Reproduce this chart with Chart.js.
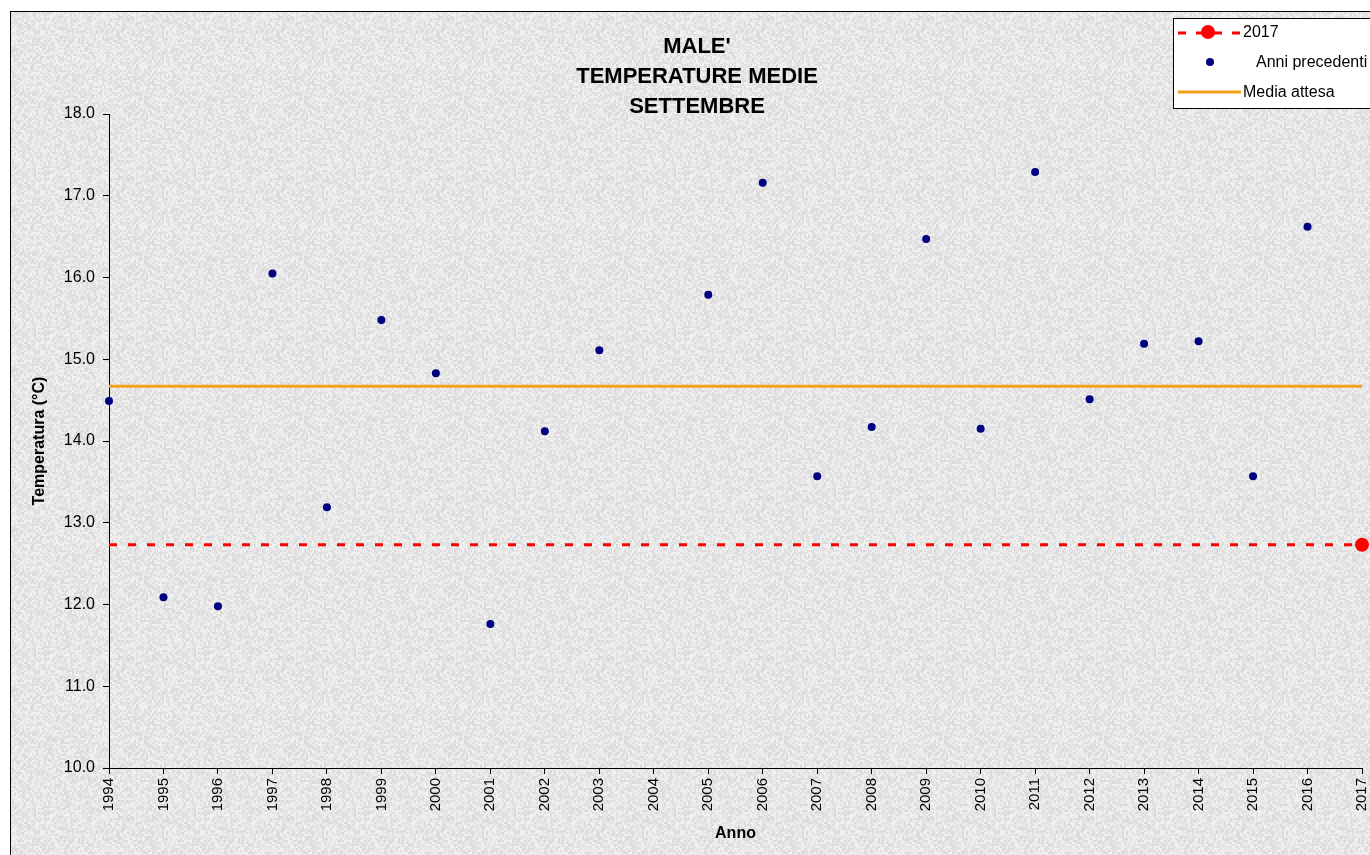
<!DOCTYPE html>
<html lang="it">
<head>
    <meta charset="UTF-8">
    <title>Male' - Temperature medie settembre</title>
    <script src="https://cdn.jsdelivr.net/npm/chart.js@4.4.1/dist/chart.umd.min.js"></script>
    <style>
        body { margin: 0; background: #fff; }
        canvas { display: block; }
    </style>
</head>
<body>
    <canvas id="myChart" width="1370" height="855"></canvas>
<script>
    // dati
    const anni = [1994, 1995, 1996, 1997, 1998, 1999, 2000, 2001, 2002, 2003, 2004, 2005,
                  2006, 2007, 2008, 2009, 2010, 2011, 2012, 2013, 2014, 2015, 2016]
    const tempMedie = [14.49, 12.09, 11.98, 16.05, 13.19, 15.48, 14.83, 11.76, 14.12, 15.11, null, 15.79,
                       17.16, 13.57, 14.17, 16.47, 14.15, 17.29, 14.51, 15.19, 15.22, 13.57, 16.62]
    const annoCorrente = 2017
    const tempCorrente = 12.73
    const mediaAttesa = 14.67
    const yTicks = [10, 11, 12, 13, 14, 15, 16, 17, 18]

    const font = "'Liberation Sans', Arial, sans-serif"
    const colPrec = '#000080'
    const colCorr = '#FF0000'
    const colMedia = '#F5A01A'

    // texture di sfondo tipo granito (generatore deterministico)
    function makeTexture() {
        let seed = 12345
        const rnd = () => { seed = (seed * 1103515245 + 12345) % 2147483648; return seed / 2147483648 }
        const c = document.createElement('canvas')
        c.width = 160; c.height = 160
        const g = c.getContext('2d')
        g.fillStyle = '#e4e4e4'
        g.fillRect(0, 0, 160, 160)
        for (let y = 0; y < 160; y += 2) {
            for (let x = 0; x < 160; x += 2) {
                const v = Math.round(217 + rnd() * 26)
                g.fillStyle = `rgb(${v},${v},${v})`
                g.fillRect(x, y, 2, 2)
            }
        }
        return c
    }
    const texture = makeTexture()

    const sfondo = {
        id: 'sfondo',
        beforeDraw(chart) {
            const ctx = chart.ctx
            ctx.save()
            ctx.fillStyle = '#fff'
            ctx.fillRect(0, 0, chart.width, chart.height)
            ctx.fillStyle = ctx.createPattern(texture, 'repeat')
            ctx.fillRect(10, 11, chart.width, chart.height)
            ctx.strokeStyle = '#000'
            ctx.lineWidth = 1
            ctx.strokeRect(10.5, 11.5, chart.width + 20, chart.height + 20)

            ctx.fillStyle = '#000'
            ctx.font = 'bold 22px ' + font
            ctx.textAlign = 'center'
            ctx.textBaseline = 'middle'
            ctx.fillText("MALE'", 697, 47)
            ctx.fillText('TEMPERATURE MEDIE', 697, 77)
            ctx.fillText('SETTEMBRE', 697, 107)
            ctx.restore()
        }
    }

    const legenda = {
        id: 'legenda',
        afterDraw(chart) {
            const ctx = chart.ctx
            ctx.save()
            ctx.fillStyle = '#fff'
            ctx.fillRect(1173.5, 18.5, 240, 90)
            ctx.strokeStyle = '#000'
            ctx.lineWidth = 1
            ctx.strokeRect(1173.5, 18.5, 240, 90)

            // 2017
            ctx.strokeStyle = colCorr
            ctx.lineWidth = 3
            ctx.setLineDash([8, 10])
            ctx.beginPath()
            ctx.moveTo(1178, 33)
            ctx.lineTo(1241, 33)
            ctx.stroke()
            ctx.setLineDash([])
            ctx.fillStyle = colCorr
            ctx.beginPath()
            ctx.arc(1208, 32, 7, 0, Math.PI * 2)
            ctx.fill()

            // anni precedenti
            ctx.fillStyle = colPrec
            ctx.beginPath()
            ctx.arc(1210, 62, 4, 0, Math.PI * 2)
            ctx.fill()

            // media attesa
            ctx.strokeStyle = colMedia
            ctx.lineWidth = 3
            ctx.beginPath()
            ctx.moveTo(1178, 92)
            ctx.lineTo(1241, 92)
            ctx.stroke()

            ctx.fillStyle = '#000'
            ctx.font = '16px ' + font
            ctx.textAlign = 'left'
            ctx.textBaseline = 'middle'
            ctx.fillText(String(annoCorrente), 1243, 33)
            ctx.fillText('Anni precedenti', 1256, 63)
            ctx.fillText('Media attesa', 1243, 93)
            ctx.restore()
        }
    }

    const primoAnno = anni[0]

    let ctx = document.getElementById('myChart').getContext('2d')
    let chart = new Chart(ctx, {
        type: 'scatter',
        data: {
            datasets: [{
                label: String(annoCorrente),
                type: 'line',
                data: [{ x: primoAnno, y: tempCorrente }, { x: annoCorrente, y: tempCorrente }],
                borderColor: colCorr,
                backgroundColor: colCorr,
                borderWidth: 3,
                borderDash: [8, 11],
                pointRadius: [0, 7],
                pointBorderWidth: 0,
                clip: false,
                order: 2
            }, {
                label: 'Anni precedenti',
                data: anni.map((a, i) => ({ x: a, y: tempMedie[i] })),
                backgroundColor: colPrec,
                borderColor: colPrec,
                pointRadius: 4,
                pointBorderWidth: 0,
                showLine: false,
                clip: false,
                order: 1
            }, {
                label: 'Media attesa',
                type: 'line',
                data: [{ x: primoAnno, y: mediaAttesa }, { x: annoCorrente, y: mediaAttesa }],
                borderColor: colMedia,
                borderWidth: 3,
                pointRadius: 0,
                clip: false,
                order: 3
            }]
        },
        options: {
            responsive: false,
            animation: false,
            layout: { padding: { top: 114, right: 8, left: 0, bottom: 0 } },
            plugins: {
                legend: { display: false },
                title: { display: false },
                tooltip: { enabled: false }
            },
            scales: {
                x: {
                    type: 'linear',
                    min: primoAnno,
                    max: annoCorrente,
                    afterFit: s => { s.height = 87; s.paddingLeft = 0; s.paddingRight = 0 },
                    afterBuildTicks: s => { s.ticks = anni.concat([annoCorrente]).map(v => ({ value: v })) },
                    grid: { drawOnChartArea: false, drawTicks: true, tickLength: 6, tickColor: '#000' },
                    border: { display: true, color: '#000', width: 1 },
                    ticks: {
                        autoSkip: false,
                        minRotation: 90,
                        maxRotation: 90,
                        padding: 4,
                        color: '#000',
                        font: { family: font, size: 15 },
                        callback: v => String(v)
                    },
                    title: {
                        display: true,
                        text: 'Anno',
                        color: '#000',
                        font: { family: font, size: 16, weight: 'bold' },
                        padding: { top: 0, bottom: 12 }
                    }
                },
                y: {
                    min: 10,
                    max: 18,
                    afterFit: s => { s.width = 109; s.paddingTop = 0; s.paddingBottom = 0 },
                    afterBuildTicks: s => { s.ticks = yTicks.map(v => ({ value: v })) },
                    grid: { drawOnChartArea: false, drawTicks: true, tickLength: 6, tickColor: '#000' },
                    border: { display: true, color: '#000', width: 1 },
                    ticks: {
                        padding: 8,
                        color: '#000',
                        font: { family: font, size: 16 },
                        callback: v => Number(v).toFixed(1)
                    },
                    title: {
                        display: true,
                        text: 'Temperatura (°C)',
                        color: '#000',
                        font: { family: font, size: 16, weight: 'bold' },
                        padding: { top: 30, bottom: 0 }
                    }
                }
            }
        },
        plugins: [sfondo, legenda]
    })
</script>
</body>
</html>
